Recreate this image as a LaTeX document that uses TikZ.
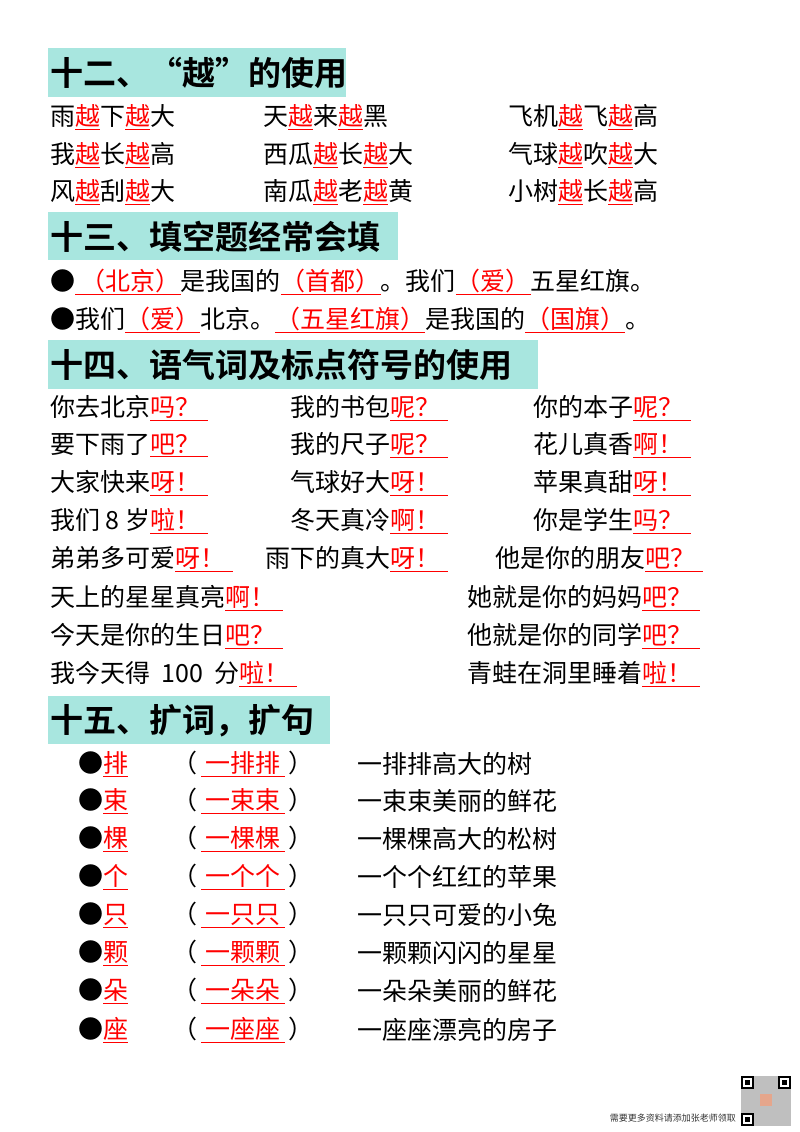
\documentclass[tikz,border=0pt]{standalone}
\usepackage{fontspec}
\setmainfont{Noto Sans CJK SC}
\newfontfamily\hfont{Noto Sans CJK SC Bold}
\definecolor{hbg}{HTML}{A8E6DF}
\newcommand{\rr}[1]{\textcolor{red}{\underline{#1}}}
\tikzset{t/.style={anchor=west,inner sep=0,font=\fontsize{25pt}{28pt}\selectfont},
hd/.style={anchor=west,inner sep=0,font=\hfont\fontsize{33pt}{36pt}\selectfont}}
\begin{document}
\begin{tikzpicture}[x=1pt,y=-1pt]
\useasboundingbox (0,0) rectangle (800,1132);
% headers
\fill[hbg] (48,48) rectangle (346,97);
\node[hd] (h12) at (50,73) {十二、“越”的使用};
\fill[hbg] (48,212) rectangle (398,260);
\node[hd] (h13) at (50,237) {十三、填空题经常会填};
\fill[hbg] (48,340) rectangle (538,389);
\node[hd] (h14) at (50,365) {十四、语气词及标点符号的使用};
\fill[hbg] (48,696) rectangle (330,744);
\node[hd] (h15) at (50,721) {十五、扩词，扩句};
% sec 12
\node[t] (a1) at (50,117) {雨\rr{越}下\rr{越}大};
\node[t] (a2) at (263,117) {天\rr{越}来\rr{越}黑};
\node[t] (a3) at (508,117) {飞机\rr{越}飞\rr{越}高};
\node[t] (a4) at (50,155) {我\rr{越}长\rr{越}高};
\node[t] (a5) at (263,155) {西瓜\rr{越}长\rr{越}大};
\node[t] (a6) at (508,155) {气球\rr{越}吹\rr{越}大};
\node[t] (a7) at (50,192) {风\rr{越}刮\rr{越}大};
\node[t] (a8) at (263,192) {南瓜\rr{越}老\rr{越}黄};
\node[t] (a9) at (508,192) {小树\rr{越}长\rr{越}高};
% sec 13
\node[t] (b1) at (50,282) {●\rr{\ （北京）}是我国的\rr{（首都）}。我们\rr{（爱）}五星红旗。};
\node[t] (b2) at (50,320) {●我们\rr{（爱）}北京。\rr{（五星红旗）}是我国的\rr{（国旗）}。};
% sec 14
\node[t] (c1) at (50,408) {你去北京\rr{吗？\hspace{8pt}}};
\node[t] (c2) at (290,408) {我的书包\rr{呢？\hspace{8pt}}};
\node[t] (c3) at (533,408) {你的本子\rr{呢？\hspace{8pt}}};
\node[t] (c4) at (50,445) {要下雨了\rr{吧？\hspace{8pt}}};
\node[t] (c5) at (290,445) {我的尺子\rr{呢？\hspace{8pt}}};
\node[t] (c6) at (533,445) {花儿真香\rr{啊！\hspace{8pt}}};
\node[t] (c7) at (50,483) {大家快来\rr{呀！\hspace{8pt}}};
\node[t] (c8) at (290,483) {气球好大\rr{呀！\hspace{8pt}}};
\node[t] (c9) at (533,483) {苹果真甜\rr{呀！\hspace{8pt}}};
\node[t] (c10) at (50,521) {我们 8 岁\rr{啦！\hspace{8pt}}};
\node[t] (c11) at (290,521) {冬天真冷\rr{啊！\hspace{8pt}}};
\node[t] (c12) at (533,521) {你是学生\rr{吗？\hspace{8pt}}};
\node[t] (c13) at (50,559) {弟弟多可爱\rr{呀！\hspace{8pt}}};
\node[t] (c14) at (265,559) {雨下的真大\rr{呀！\hspace{8pt}}};
\node[t] (c15) at (495,559) {他是你的朋友\rr{吧？\hspace{8pt}}};
\node[t] (c16) at (50,598) {天上的星星真亮\rr{啊！\hspace{8pt}}};
\node[t] (c17) at (467,598) {她就是你的妈妈\rr{吧？\hspace{8pt}}};
\node[t] (c18) at (50,636) {今天是你的生日\rr{吧？\hspace{8pt}}};
\node[t] (c19) at (467,636) {他就是你的同学\rr{吧？\hspace{8pt}}};
\node[t] (c20) at (50,674) {我今天得\ \ 100\ \ 分\rr{啦！\hspace{8pt}}};
\node[t] (c21) at (467,674) {青蛙在洞里睡着\rr{啦！\hspace{8pt}}};
% sec 15
\foreach \y/\c/\s [count=\i] in {764/排/一排排高大的树, 801/束/一束束美丽的鲜花, 839/棵/一棵棵高大的松树, 877/个/一个个红红的苹果, 915/只/一只只可爱的小兔, 953/颗/一颗颗闪闪的星星, 991/朵/一朵朵美丽的鲜花, 1030/座/一座座漂亮的房子}{
  \node[t] (d\i) at (78,\y) {●\rr{\c}};
  \node[t] (e\i) at (172,\y) {（\,\rr{\,一\c\c\,}\,）};
  \node[t] (f\i) at (357,\y) {\s};
}
% footer
\node[anchor=east,inner sep=0,font=\fontsize{9pt}{10pt}\selectfont,text=black!80] (ft) at (736,1118) {需要更多资料请添加张老师领取};
\fill[black!25] (741,1076) rectangle (791,1126);
\foreach \px/\py in {741/1076,778/1076,741/1113}{
  \fill[black] (\px,\py) rectangle ++(13,13);
  \fill[white] (\px+2,\py+2) rectangle ++(9,9);
  \fill[black] (\px+4,\py+4) rectangle ++(5,5);}
\fill[pink!60!brown] (760,1094) rectangle (772,1106);
\end{tikzpicture}
\end{document}
